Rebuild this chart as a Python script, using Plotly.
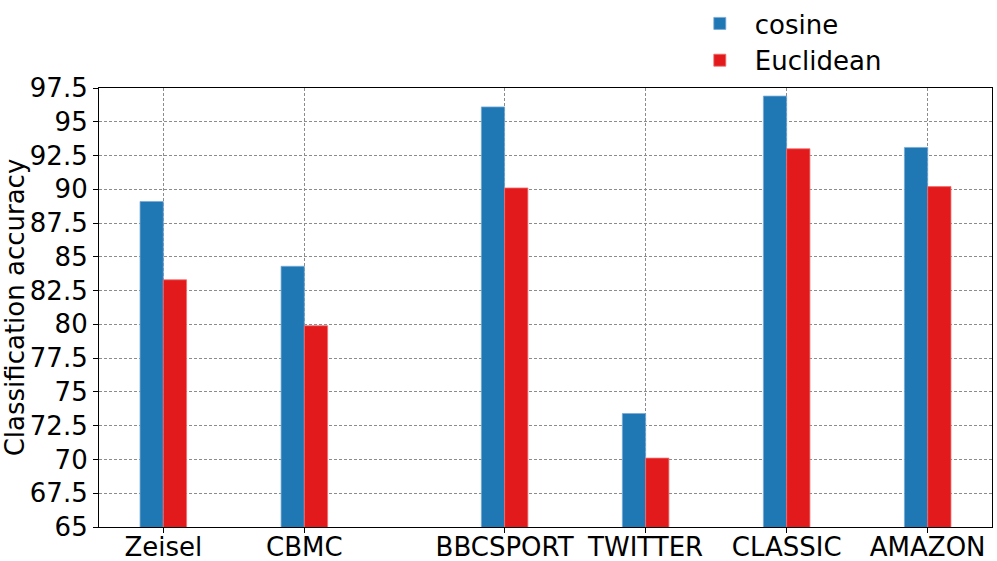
import plotly.graph_objects as go

categories = ["Zeisel", "CBMC", "BBCSPORT", "TWITTER", "CLASSIC", "AMAZON"]
cosine = [89.1, 84.3, 96.1, 73.4, 96.9, 93.1]
euclidean = [83.3, 79.9, 90.1, 70.1, 93.0, 90.2]
y_ticks = [65, 67.5, 70, 72.5, 75, 77.5, 80, 82.5, 85, 87.5, 90, 92.5, 95, 97.5]

# layout positions of category groups (gap after CBMC)
x_pos = [0, 1, 2.42, 3.42, 4.42, 5.42]
bw = 0.165

FONT = "DejaVu Sans"
FS = 26
fig = go.Figure()
fig.add_trace(go.Bar(x=x_pos, y=cosine, name="cosine", width=bw, offset=-bw,
                     marker=dict(color="#1f77b4", line=dict(width=0.8, color="rgba(120,170,215,1)"))))
fig.add_trace(go.Bar(x=x_pos, y=euclidean, name="Euclidean", width=bw, offset=0,
                     marker=dict(color="#e31a1c", line=dict(width=0.8, color="rgba(240,110,110,1)"))))

grid = dict(showgrid=True, gridcolor="#8c8c8c", griddash="3px,2px", gridwidth=1)
fig.update_layout(
    width=997, height=561,
    margin=dict(l=99, r=5, t=88, b=34),
    paper_bgcolor="white", plot_bgcolor="white",
    barmode="overlay",
    font=dict(family=FONT, size=FS, color="black"),
    legend=dict(x=0.656, y=1.01, yref="container", xanchor="left", yanchor="top",
                font=dict(size=FS), itemwidth=60, tracegroupgap=4,
                bgcolor="rgba(0,0,0,0)"),
    xaxis=dict(
        range=[-0.456, 5.876], tickmode="array", tickvals=x_pos, ticktext=categories,
        ticks="outside", ticklen=5, tickcolor="black", automargin=False,
        ticklabelstandoff=-8,
        showline=True, linecolor="black", linewidth=1.2, mirror=True,
        tickfont=dict(size=FS), zeroline=False, **grid,
    ),
    yaxis=dict(
        range=[65, 97.5], tickmode="array", tickvals=y_ticks,
        ticktext=[f"{v:g}" for v in y_ticks], automargin=False,
        ticks="outside", ticklen=5, tickcolor="black",
        showline=True, linecolor="black", linewidth=1.2, mirror=True,
        tickfont=dict(size=FS), zeroline=False, **grid,
        title=dict(text="Classification accuracy", font=dict(size=FS), standoff=6),
    ),
)
fig.write_html("out.html", config={"displayModeBar": False},
               post_script="document.body.style.margin='0';")
